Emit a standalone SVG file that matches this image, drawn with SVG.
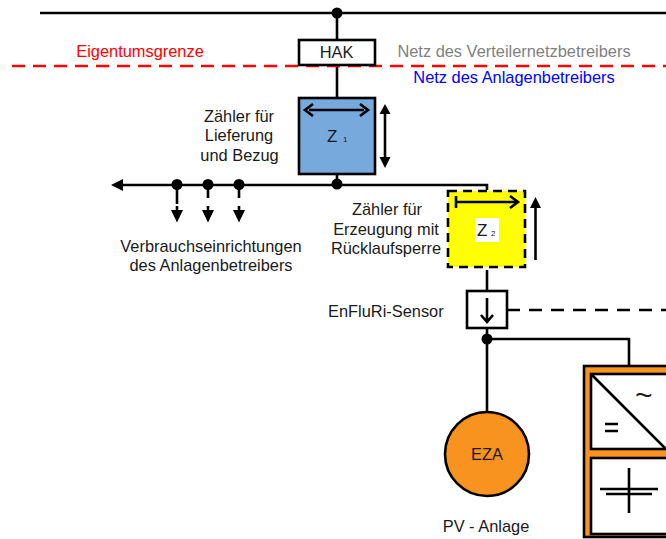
<svg xmlns="http://www.w3.org/2000/svg" width="666" height="539" viewBox="0 0 666 539">
<style>
text{font-family:"Liberation Sans",Arial,sans-serif;font-size:16.4px;fill:#1a1a1a}
.m{text-anchor:middle}
.l{fill:none;stroke:#000;stroke-width:2.6}
.box{stroke:#000;stroke-width:2.6}
.d{fill:#000}
</style>
<rect width="666" height="539" fill="#fff"/>
<g id="connectors">
<path class="l" d="M40 13H666M337 13V40M337 66V97M337 160V185M120 185H487V190M487 270V291M487 329V339M487 339V412M487 339H629V366M177 185V204M208 185V198M239 185V198"/>
<path class="l" d="M507 310H666" stroke-dasharray="13 9"/>
<path d="M12 66H666" fill="none" stroke="#f00" stroke-width="2.4" stroke-dasharray="13 8"/>
<path d="M123 179L111 185L123 191Z" class="d"/>
<path class="l" d="M177 206V212M208 206V212M239 206V212"/>
<path d="M171 210H183L177 222.500Z" class="d"/>
<path d="M202 210H214L208 222.500Z" class="d"/>
<path d="M233 210H245L239 222.500Z" class="d"/>
<circle class="d" cx="337" cy="13" r="5.500"/>
<circle class="d" cx="337" cy="184" r="5.500"/>
<circle class="d" cx="177" cy="184.500" r="5.500"/>
<circle class="d" cx="208" cy="184.500" r="5.500"/>
<circle class="d" cx="239" cy="184.500" r="5.500"/>
<circle class="d" cx="487" cy="339" r="5.500"/>
</g>
<g id="hak"><rect class="box" x="299" y="40" width="76" height="25" fill="#fff"/><text class="m" x="336.500" y="58">HAK</text></g>
<g id="z1">
<rect class="box" x="299" y="98" width="76" height="76" fill="#78a9dc"/>
<text x="327" y="142" style="font-size:17px">Z</text><text x="343" y="142" style="font-size:8px">1</text>
<path class="l" d="M309 110H364"/>
<path class="l" d="M313 104L305 110L313 116M360 104L368 110L360 116"/>
<path class="l" d="M385 112V157"/>
<path class="d" d="M385 104L379.500 114H390.500ZM385 168L379.500 157H390.500Z"/>
</g>
<g id="z2">
<rect x="448" y="191" width="77" height="76" fill="#ff0"/>
<rect x="448" y="191" width="77" height="76" fill="none" stroke="#000" stroke-width="2.600" stroke-dasharray="9 6"/>
<rect x="475" y="218" width="24" height="24" fill="#fff"/>
<text x="477" y="236" style="font-size:17px">Z</text><text x="491" y="236" style="font-size:8px">2</text>
<path class="l" d="M456 196V208M456 202H518M510 196L518 202L510 208"/>
<path class="l" d="M535.500 260V207"/>
<path class="d" d="M535.500 197L530 208H541Z"/>
</g>
<g id="sensor">
<rect class="box" x="467" y="291" width="40" height="37" fill="#fff"/>
<path class="l" d="M487 298V322M481 315L487 322L493 315"/>
</g>
<g id="wr">
<rect class="box" x="584" y="366" width="90" height="171" fill="#f7931e"/>
<rect class="box" x="591" y="374" width="90" height="75" fill="#fff"/>
<rect class="box" x="591" y="458" width="90" height="76" fill="#fff"/>
<path class="l" d="M591 374L666 449"/>
<text x="635" y="405" style="font-size:30px">~</text>
<path class="l" d="M605 424H618M605 431H618"/>
<path class="l" d="M600 489H658M606 494H652M629 468V513"/>
</g>
<g id="eza"><circle cx="487" cy="454" r="42" fill="#f7931e" stroke="#000" stroke-width="2.600"/><text class="m" x="487" y="460">EZA</text></g>
<g id="labels">
<text class="m" x="140" y="57" style="fill:#f00">Eigentumsgrenze</text>
<text class="m" x="514" y="57" style="fill:#7f7f7f">Netz des Verteilernetzbetreibers</text>
<text class="m" x="514" y="83" style="fill:#00f">Netz des Anlagenbetreibers</text>
<text class="m" x="239" y="122">Zähler für</text>
<text class="m" x="239" y="141">Lieferung</text>
<text class="m" x="239.500" y="161">und Bezug</text>
<text class="m" x="387" y="215">Zähler für</text>
<text class="m" x="386" y="235">Erzeugung mit</text>
<text class="m" x="386" y="254">Rücklaufsperre</text>
<text class="m" x="211" y="252">Verbrauchseinrichtungen</text>
<text class="m" x="211" y="271">des Anlagenbetreibers</text>
<text x="328" y="317">EnFluRi-Sensor</text>
<text class="m" x="486" y="532">PV - Anlage</text>
</g>
</svg>
